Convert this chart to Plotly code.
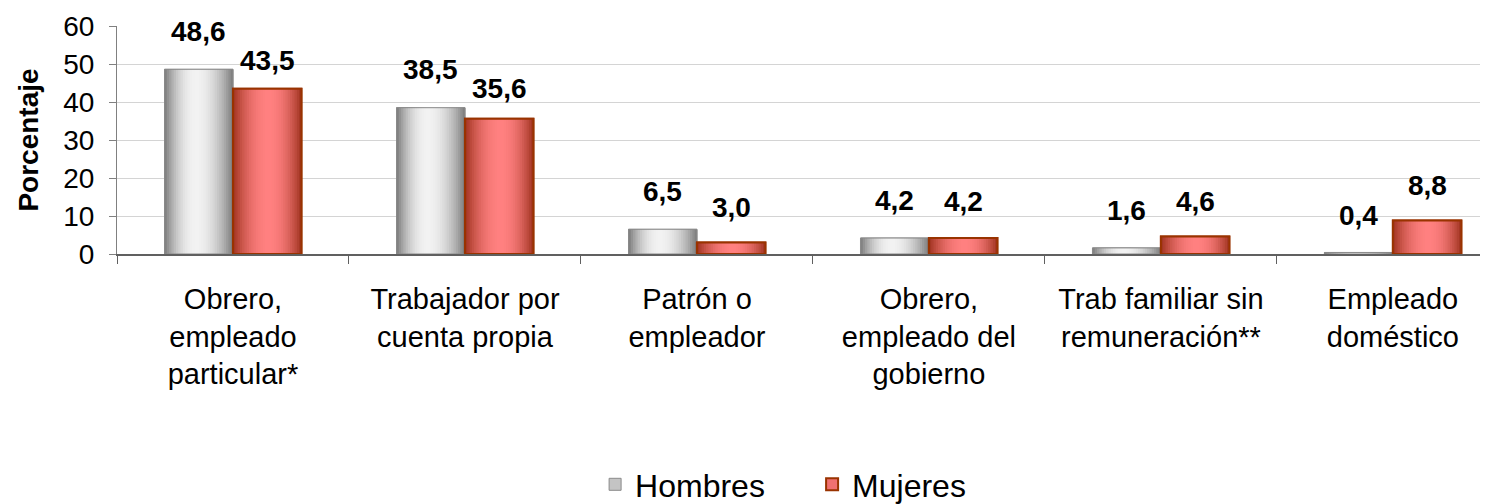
import plotly.graph_objects as go

categories = ["Obrero,<br>empleado<br>particular*", "Trabajador por<br>cuenta propia",
              "Patrón o<br>empleador", "Obrero,<br>empleado del<br>gobierno",
              "Trab familiar sin<br>remuneración**", "Empleado<br>doméstico"]
hombres = [48.6, 38.5, 6.5, 4.2, 1.6, 0.4]
mujeres = [43.5, 35.6, 3.0, 4.2, 4.6, 8.8]
labels_h = ["48,6", "38,5", "6,5", "4,2", "1,6", "0,4"]
labels_m = ["43,5", "35,6", "3,0", "4,2", "4,6", "8,8"]

FONT = "Liberation Sans, Arial, sans-serif"
BW = 0.295        # bar width in category units
NSTRIP = 30
LABEL_SHIFT_H = [20, 21, 20, 20, 20, 19]
LABEL_SHIFT_M = [11, 13, 18, 19, 18, 18]

def lerp(c1, c2, a):
    return tuple(int(round(c1[k] + (c2[k] - c1[k]) * a)) for k in range(3))

def profile(t, peak):
    if t <= peak:
        u = t / peak
    else:
        u = (1 - t) / (1 - peak)
    return 1 - (1 - u) ** 2

series = [
    dict(name="Hombres", vals=hombres, off=-BW, dark=(122, 122, 122), light=(242, 242, 242),
         peak=0.45, border="#8a8a8a", mid="#c4c4c4", bw=1),
    dict(name="Mujeres", vals=mujeres, off=0.0, dark=(158, 50, 30), light=(255, 128, 128),
         peak=0.52, border="#993300", mid="#f07070", bw=2),
]

fig = go.Figure()
for s in series:
    fig.add_trace(go.Bar(x=categories, y=s["vals"], name=s["name"], width=BW, offset=s["off"],
                         marker=dict(color=s["mid"], line=dict(color=s["border"], width=s["bw"])),
                         showlegend=True, hoverinfo="skip"))
    sw = BW / NSTRIP
    for k in range(NSTRIP):
        t = (k + 0.5) / NSTRIP
        c = lerp(s["dark"], s["light"], profile(t, s["peak"]))
        fig.add_trace(go.Bar(x=categories, y=s["vals"], width=BW - k * sw, offset=s["off"] + k * sw,
                             marker=dict(color="rgb(%d,%d,%d)" % c, line=dict(width=0)),
                             showlegend=False, hoverinfo="skip"))
    fig.add_trace(go.Bar(x=categories, y=s["vals"], width=BW, offset=s["off"],
                         marker=dict(color="rgba(0,0,0,0)", line=dict(color=s["border"], width=s["bw"])),
                         showlegend=False, hoverinfo="skip"))

for i in range(len(categories)):
    fig.add_annotation(x=i - BW / 2, y=hombres[i], text="<b>%s</b>" % labels_h[i], showarrow=False,
                       yanchor="bottom", yshift=LABEL_SHIFT_H[i],
                       font=dict(family=FONT, size=28, color="black"))
    fig.add_annotation(x=i + BW / 2, y=mujeres[i], text="<b>%s</b>" % labels_m[i], showarrow=False,
                       yanchor="bottom", yshift=LABEL_SHIFT_M[i],
                       font=dict(family=FONT, size=28, color="black"))

fig.update_layout(
    width=1480, height=504,
    margin=dict(l=109, r=0, t=18, b=257),
    barmode="overlay",
    plot_bgcolor="white", paper_bgcolor="white",
    font=dict(family=FONT, size=28, color="black"),
    showlegend=True,
    legend=dict(orientation="h", x=0.507, xanchor="center", y=-1.013, yanchor="middle",
                font=dict(family=FONT, size=32, color="black"),
                traceorder="normal", entrywidth=172),
)
fig.update_xaxes(type="category", showline=True, linecolor="#606060", linewidth=2,
                 ticks="outside", tickson="boundaries", ticklen=8, tickcolor="#606060",
                 tickfont=dict(family=FONT, size=29, color="black"), ticklabelstandoff=18,
                 showgrid=False, range=[-0.5, 5.41], automargin=False)
fig.update_yaxes(range=[0, 60], dtick=10, showline=True, linecolor="#808080", linewidth=1,
                 ticks="outside", ticklen=7, tickcolor="#808080",
                 showgrid=True, gridcolor="#d4d4d4", gridwidth=1,
                 tickfont=dict(family=FONT, size=28, color="black"), ticklabelstandoff=9,
                 title=dict(text="<b>Porcentaje</b>", font=dict(family=FONT, size=28, color="black"),
                            standoff=16),
                 zeroline=False, automargin=False)

fig.write_html("out.html")
